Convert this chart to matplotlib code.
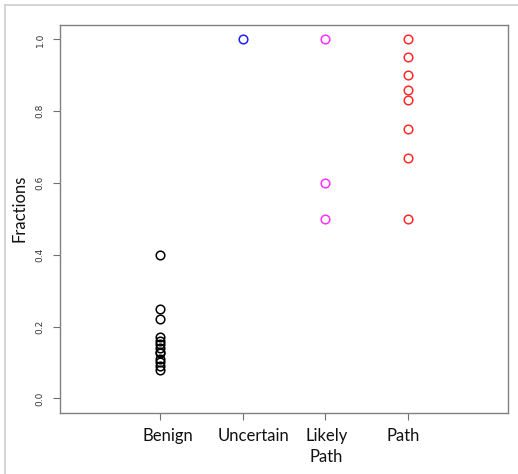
import matplotlib
matplotlib.use("Agg")
import matplotlib.pyplot as plt
from matplotlib.lines import Line2D

categories = ["Benign", "Uncertain", "Likely\nPath", "Path"]
benign = [0.40, 0.25, 0.22, 0.17, 0.16, 0.15, 0.14, 0.13, 0.125, 0.11, 0.10, 0.09, 0.08]
uncertain = [1.0]
likely_path = [1.0, 0.6, 0.5]
path = [1.0, 0.95, 0.90, 0.86, 0.83, 0.75, 0.67, 0.50]
series = [benign, uncertain, likely_path, path]
colors = ["black", "#2020ff", "#ff30ff", "#ff2a2a"]
yticks = [0.0, 0.2, 0.4, 0.6, 0.8, 1.0]
label_dx = [0.10, 0.13, 0.01, -0.06]

fig = plt.figure(figsize=(5.18, 4.74), dpi=100)
ax = fig.add_axes([60/518, 1-412.7/474, 448/518, 387.7/474])

for i, (vals, c) in enumerate(zip(series, colors)):
    ax.plot([i + 1] * len(vals), vals, linestyle="none", marker="o",
            markersize=6.2, markerfacecolor="none", markeredgecolor=c,
            markeredgewidth=1.1)

ax.set_xlim(-0.2, 5.2)
ax.set_ylim(-0.04, 1.04)
ax.set_yticks(yticks)
ax.set_yticklabels([f"{v:.1f}" for v in yticks], rotation=90, va="center",
                   fontsize=6.5, color="#333333")
ax.set_xticks([1, 2, 3, 4])
ax.set_xticklabels([])
ax.tick_params(axis="both", length=5, width=0.8, color="#707070", pad=6)
for s in ax.spines.values():
    s.set_color("#808080")
    s.set_linewidth(1.0)

for i, (lab, dx) in enumerate(zip(categories, label_dx)):
    ax.text(i + 1 + dx, -0.082, lab, ha="center", va="top", fontsize=12,
            family=["Lato", "DejaVu Sans"], color="#111111",
            linespacing=1.4)

fig.text(20/518, 1-208/474, "Fractions", rotation=90, ha="center", va="center",
         fontsize=12, family=["Lato", "DejaVu Sans"], color="#111111")

# outer frame of the screenshot
fig.add_artist(Line2D([5/518, 5/518], [0, 1-5/474], transform=fig.transFigure,
                      color="#cccccc", linewidth=1.2))
fig.add_artist(Line2D([5/518, 1], [1-5/474, 1-5/474], transform=fig.transFigure,
                      color="#cccccc", linewidth=1.2))

fig.savefig("out.png", dpi=100)
